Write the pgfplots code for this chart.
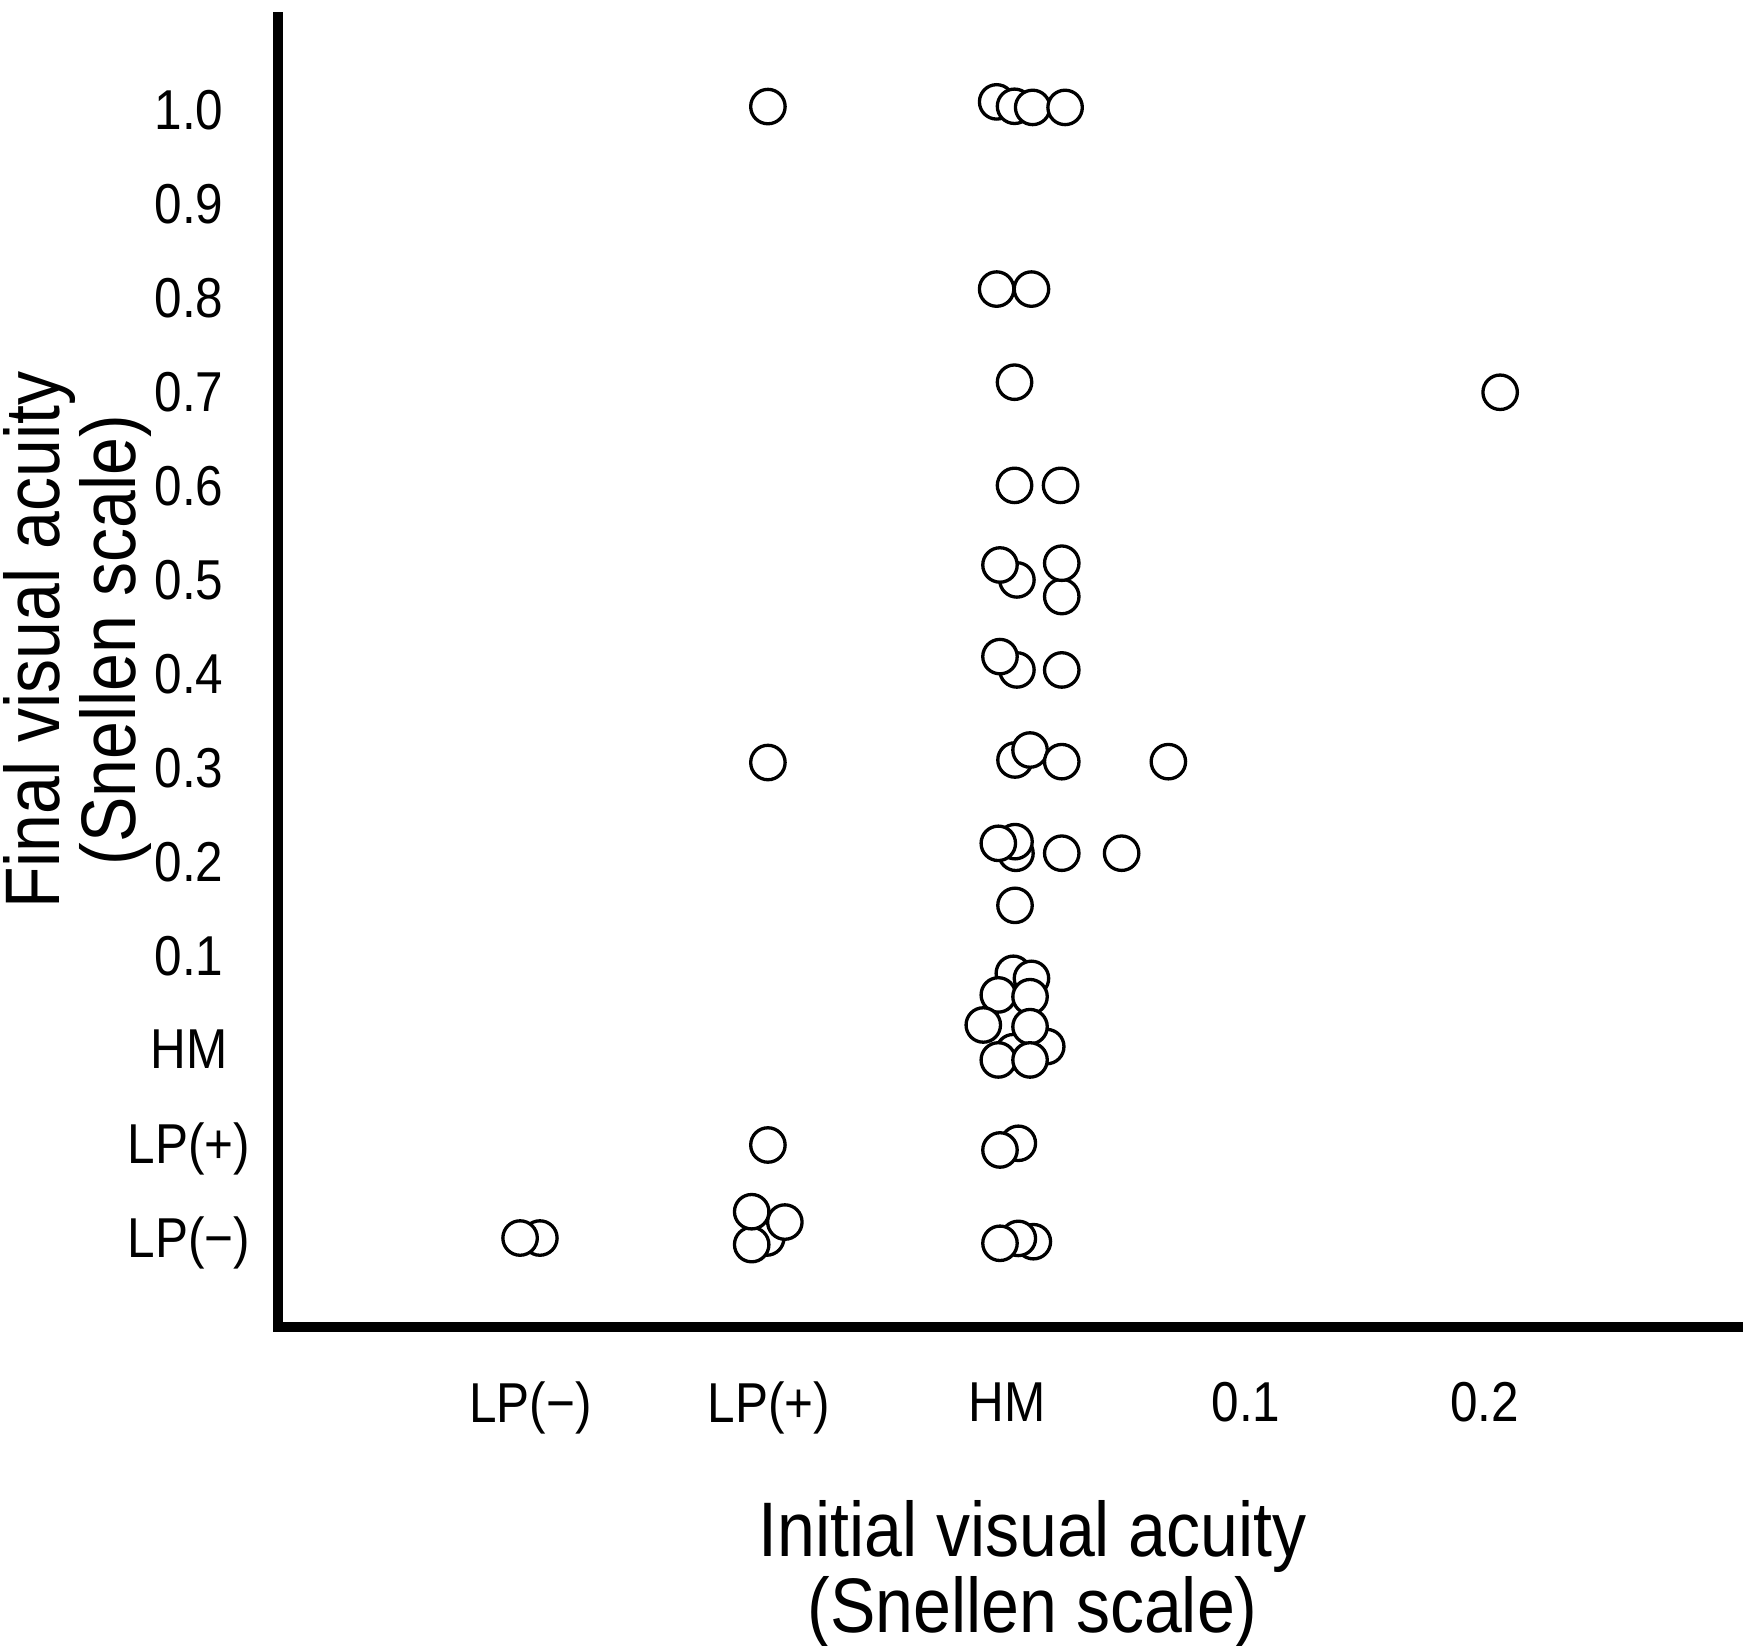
\documentclass[border=0pt]{standalone}
\usepackage{pgfplots}
\pgfplotsset{compat=1.18}
\usepackage{fontspec}
\setmainfont{Liberation Sans}[FakeStretch=0.88]
\begin{document}
\begin{tikzpicture}
\useasboundingbox (0,0) rectangle (17.58cm,16.45cm);
\begin{axis}[
  at={(2.78cm,3.177cm)}, anchor=south west,
  scale only axis, width=14.597cm, height=13.10cm,
  xmin=-1.058, xmax=5.062, ymin=-1.0, ymax=12.94,
  axis x line=bottom, axis y line=left,
  axis line style={line width=2.8pt, -, line cap=rect},
  xtick={0,1,2,3,4}, xticklabels={LP(−),LP(+),HM,0.1,0.2},
  ytick={0,1,2,3,4,5,6,7,8,9,10,11,12},
  yticklabels={LP(−),LP(+),HM,0.1,0.2,0.3,0.4,0.5,0.6,0.7,0.8,0.9,1.0},
  major tick length=0pt, tick style={draw=none},
  xticklabel style={anchor=center, yshift=-7.5mm, text depth=0pt, font=\fontsize{16}{16}\selectfont},
  yticklabel style={anchor=center, xshift=-8.9mm, yshift=-0.4mm, text depth=0pt, font=\fontsize{16}{16}\selectfont},
  xlabel={Initial visual acuity\\(Snellen scale)},
  ylabel={Final visual acuity\\(Snellen scale)},
  xlabel style={at={(axis description cs:0.517,-0.1318)}, anchor=north, inner sep=0pt, align=center, font=\fontsize{22}{17.5}\selectfont},
  ylabel style={at={(axis description cs:-0.1884,0.5245)}, anchor=north, inner sep=0pt, align=center, font=\fontsize{22}{18}\selectfont},
  clip=false,
]
\addplot[only marks, mark=*, mark size=4.9pt, mark options={draw=black, fill=white, line width=0.94pt}] table {
x y
0.040 -0.05
-0.043 -0.05
0.991 -0.05
1.067 0.12
0.928 -0.12
0.928 0.23
0.996 0.94
0.996 5.01
0.996 11.99
2.109 -0.089
2.046 -0.054
1.969 -0.106
2.046 0.958
1.969 0.887
2.025 2.767
2.101 2.713
2.165 1.987
2.025 1.933
1.962 2.537
2.095 2.518
1.899 2.217
2.095 2.199
1.962 1.845
2.095 1.845
2.032 3.49
2.036 4.044
2.032 4.168
1.962 4.150
2.228 4.045
2.479 4.045
2.032 5.037
2.095 5.143
2.228 5.019
2.675 5.019
2.040 5.995
1.969 6.137
2.228 5.995
2.040 6.953
1.969 7.112
2.228 6.776
2.228 7.131
2.030 7.959
2.223 7.959
2.030 9.057
4.066 8.95
1.955 10.048
2.101 10.048
1.955 12.04
2.030 11.993
2.106 11.981
2.242 11.981
};
\end{axis}
\end{tikzpicture}
\end{document}
